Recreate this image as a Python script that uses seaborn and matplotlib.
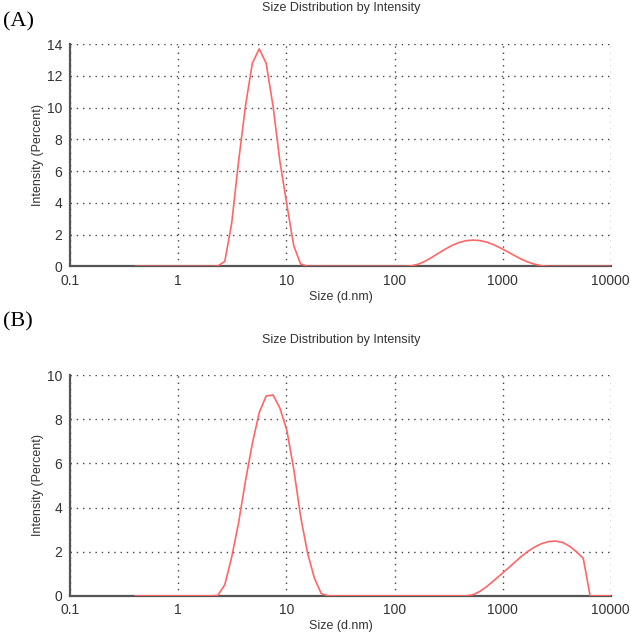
import numpy as np
import pandas as pd
import matplotlib
matplotlib.use("Agg")
import matplotlib.pyplot as plt
import seaborn as sns
from matplotlib.ticker import FixedLocator, NullFormatter

# DLS size bins (d.nm)
sizes = [0.4, 0.4632, 0.5365, 0.6213, 0.7195, 0.8332, 0.9649, 1.117, 1.294, 1.499,
         1.736, 2.010, 2.328, 2.696, 3.122, 3.615, 4.187, 4.849, 5.615, 6.503,
         7.531, 8.721, 10.10, 11.70, 13.54, 15.69, 18.17, 21.04, 24.36, 28.21,
         32.67, 37.84, 43.82, 50.75, 58.77, 68.06, 78.82, 91.28, 105.7, 122.4,
         141.8, 164.2, 190.1, 220.2, 255.0, 295.3, 342.0, 396.1, 458.7, 531.2,
         615.1, 712.4, 825.0, 955.4, 1106, 1281, 1484, 1718, 1990, 2305,
         2669, 3091, 3580, 4145, 4801, 5560, 6439, 7456, 8635, 10000]

# panel (A) intensity (%)
intensity_a = [0, 0, 0, 0, 0, 0, 0, 0, 0, 0,
               0, 0, 0.02, 0.3, 2.7, 6.6, 10.1, 12.8, 13.7, 12.8,
               10.1, 6.6, 3.9, 1.3, 0.15, 0, 0, 0, 0, 0,
               0, 0, 0, 0, 0, 0, 0, 0, 0, 0,
               0.02, 0.12, 0.3, 0.55, 0.82, 1.08, 1.32, 1.5, 1.61, 1.65,
               1.62, 1.52, 1.36, 1.15, 0.92, 0.68, 0.45, 0.26, 0.12, 0.03,
               0, 0, 0, 0, 0, 0, 0, 0, 0, 0]

# panel (B) intensity (%)
intensity_b = [0, 0, 0, 0, 0, 0, 0, 0, 0, 0,
               0, 0, 0.02, 0.5, 1.75, 3.3, 5.2, 6.9, 8.3, 9.05,
               9.1, 8.5, 7.5, 5.75, 3.6, 1.95, 0.8, 0.1, 0, 0,
               0, 0, 0, 0, 0, 0, 0, 0, 0, 0,
               0, 0, 0, 0, 0, 0, 0, 0, 0, 0.05,
               0.2, 0.42, 0.68, 0.95, 1.22, 1.5, 1.78, 2.02, 2.22, 2.37,
               2.46, 2.48, 2.42, 2.25, 2.0, 1.7, 0, 0, 0, 0]

x_ticks = [0.1, 1, 10, 100, 1000, 10000]
x_tick_labels = ["0.1", "1", "10", "100", "1000", "10000"]

sns.set_theme(style="white")
plt.rcParams['font.family'] = ['Liberation Sans', 'DejaVu Sans']

fig = plt.figure(figsize=(6.31, 6.40), dpi=100)
ax_a = fig.add_axes([0.111, 0.584, 0.857, 0.347])
ax_b = fig.add_axes([0.111, 0.069, 0.857, 0.345])

text_col = '#333333'
axis_col = '#555555'
line_col = '#ff6666'

def style_axis(ax, y_max):
    ax.set_xscale('log')
    ax.set_xlim(0.1, 10000)
    ax.set_ylim(0, y_max)
    ax.set_xticks(x_ticks, labels=x_tick_labels)
    ax.xaxis.set_minor_locator(FixedLocator(
        [m * d for d in [0.1, 1, 10, 100, 1000] for m in range(2, 10)]))
    ax.xaxis.set_minor_formatter(NullFormatter())
    ax.set_yticks(range(0, y_max + 1, 2))
    ax.yaxis.set_minor_locator(FixedLocator(range(1, y_max, 2)))
    for side in ['top', 'right']:
        ax.spines[side].set_visible(False)
    for side in ['left', 'bottom']:
        ax.spines[side].set_color(axis_col)
        ax.spines[side].set_linewidth(1.6)
    ax.grid(True, which='major', linestyle=(0, (1, 3.5)), color='#444444', lw=1.0)
    ax.tick_params(which='major', direction='inout', length=5, width=1,
                   color=axis_col, labelsize=10, labelcolor=text_col, pad=3)
    ax.tick_params(which='minor', direction='inout', length=4, width=1,
                   color=axis_col)
    ax.set_xlabel('Size (d.nm)', fontsize=9, color=text_col, labelpad=2)
    ax.set_ylabel('Intensity (Percent)', fontsize=9, color=text_col, labelpad=2)

for ax, vals, y_max in [(ax_a, intensity_a, 14), (ax_b, intensity_b, 10)]:
    df = pd.DataFrame({'size': sizes, 'intensity': vals})
    sns.lineplot(data=df, x='size', y='intensity', ax=ax, color=line_col,
                 lw=1.2, zorder=3)
    style_axis(ax, y_max)

fig.text(0.54, 0.987, 'Size Distribution by Intensity', ha='center', va='center',
         fontsize=9, color=text_col)
fig.text(0.54, 0.469, 'Size Distribution by Intensity', ha='center', va='center',
         fontsize=9, color=text_col)
fig.text(0.005, 0.966, '(A)', ha='left', va='center', fontsize=16,
         family='Liberation Serif', color='black')
fig.text(0.005, 0.497, '(B)', ha='left', va='center', fontsize=16,
         family='Liberation Serif', color='black')

fig.savefig('out.png', dpi=100)
